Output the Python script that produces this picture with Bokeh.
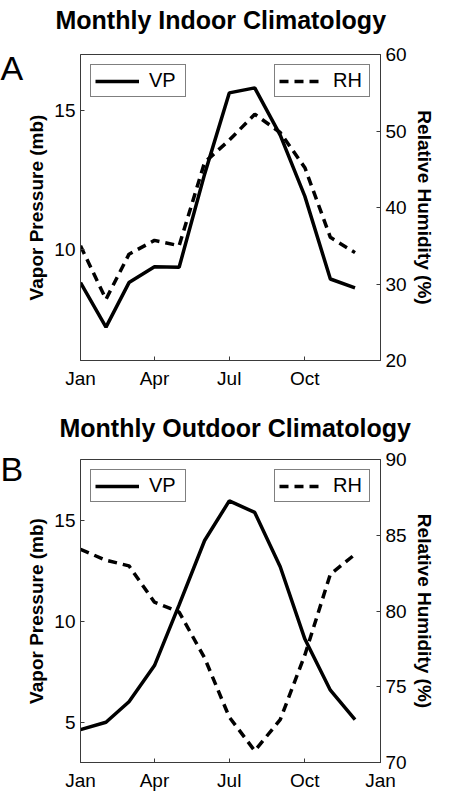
from bokeh.plotting import figure
from bokeh.models import Range1d, LinearAxis, FixedTicker, Legend, LegendItem, Label
from bokeh.layouts import column
from bokeh.embed import file_html
from bokeh.resources import INLINE

# ---- data -------------------------------------------------------------
month_day = [0, 31, 59, 90, 120, 151, 181, 212, 243, 273, 304, 334]

tick_days_a = [0, 90, 181, 273]
tick_labels_a = ["Jan", "Apr", "Jul", "Oct"]
tick_days_b = [0, 90, 181, 273, 365]
tick_labels_b = ["Jan", "Apr", "Jul", "Oct", "Jan"]

indoor_vp = [8.8, 7.2, 8.8, 9.37, 9.35, 12.7, 15.62, 15.8, 14.1, 11.9, 8.93, 8.61]
indoor_rh = [35.0, 28.0, 33.9, 35.7, 35.0, 45.9, 48.8, 52.2, 49.8, 45.2, 36.1, 34.1]
outdoor_vp = [4.63, 4.99, 6.01, 7.80, 10.8, 13.99, 15.95, 15.38, 12.69, 9.11, 6.58, 5.12]
outdoor_rh = [84.07, 83.35, 82.98, 80.58, 79.93, 76.9, 73.0, 70.77, 72.83, 77.1, 82.43, 83.74]

vp_ticks_a = [10, 15]
rh_ticks_a = [20, 30, 40, 50, 60]
vp_ticks_b = [5, 10, 15]
rh_ticks_b = [70, 75, 80, 85, 90]

FONT = "Liberation Sans"
AX = "#3a3a3a"


def style_axis(ax):
    ax.axis_line_color = AX
    ax.major_tick_line_color = AX
    ax.major_tick_in = 4
    ax.major_tick_out = 0
    ax.minor_tick_line_color = None
    ax.major_label_text_font = FONT
    ax.major_label_text_font_size = "19px"
    ax.major_label_text_color = "black"
    ax.axis_label_text_font = FONT
    ax.axis_label_text_font_size = "19px"
    ax.axis_label_text_font_style = "bold"
    ax.axis_label_text_color = "black"


def panel(title, title_x, title_y, letter, letter_y, vp, rh, vp_rng, rh_rng,
          vp_ticks, rh_ticks, xticks, xlabels, height, top, bottom):
    p = figure(width=437, height=height, x_range=Range1d(0, 365),
               y_range=Range1d(*vp_rng), output_backend="svg",
               toolbar_location=None, min_border_left=10, min_border_right=10,
               min_border_top=top, min_border_bottom=bottom,
               x_axis_location=None, y_axis_location=None)
    p.extra_y_ranges = {"rh": Range1d(*rh_rng)}
    p.grid.visible = False
    p.outline_line_color = AX
    p.outline_line_width = 1
    p.background_fill_color = "white"
    p.border_fill_color = "white"

    # panel title, drawn in the space above the frame
    p.add_layout(Label(x=title_x, y=title_y, x_units="screen", y_units="screen",
                       text=title, text_font=FONT, text_font_size="25px",
                       text_font_style="bold", text_color="black",
                       text_baseline="alphabetic"), "above")

    xb = LinearAxis(ticker=FixedTicker(ticks=xticks),
                    major_label_overrides={d: s for d, s in zip(xticks, xlabels)})
    style_axis(xb)
    xb.major_label_standoff = 7
    p.add_layout(xb, "below")

    yl = LinearAxis(ticker=FixedTicker(ticks=vp_ticks), axis_label="Vapor Pressure (mb)")
    style_axis(yl)
    yl.major_label_standoff = 5
    yl.axis_label_standoff = 4
    p.add_layout(yl, "left")

    yr = LinearAxis(y_range_name="rh", ticker=FixedTicker(ticks=rh_ticks),
                    axis_label="Relative Humidity (%)")
    style_axis(yr)
    yr.major_label_standoff = 5
    yr.axis_label_standoff = 4
    p.add_layout(yr, "right")

    r_vp = p.line(month_day, vp, line_color="black", line_width=3.5)
    r_rh = p.line(month_day, rh, y_range_name="rh", line_color="black",
                  line_width=3.5, line_dash="9 6")

    for item_label, rend, loc in (("VP", r_vp, "top_left"), ("RH", r_rh, "top_right")):
        leg = Legend(items=[LegendItem(label=item_label, renderers=[rend])],
                     location=loc, margin=10, padding=4, glyph_width=44,
                     glyph_height=18, label_standoff=10, label_width=32,
                     label_text_font=FONT, label_text_font_size="20px",
                     label_text_color="black", border_line_color="black",
                     border_line_width=1, background_fill_color="white",
                     background_fill_alpha=1.0)
        p.add_layout(leg)

    lab = Label(x=0, y=letter_y, x_units="screen", y_units="screen",
                text=letter, text_font=FONT, text_font_size="34px",
                text_color="black", text_baseline="alphabetic")
    try:
        lab.padding = -12
    except Exception:
        pass
    p.add_layout(lab, "left")
    return p


pa = panel("Monthly Indoor Climatology", -25, 35, "A", 293, indoor_vp, indoor_rh,
           (6, 17), (20, 60), vp_ticks_a, rh_ticks_a, tick_days_a, tick_labels_a,
           400, 54, 40)
pb = panel("Monthly Outdoor Climatology", -21, 32, "B", 294, outdoor_vp, outdoor_rh,
           (3, 18), (70, 90), vp_ticks_b, rh_ticks_b, tick_days_b, tick_labels_b,
           393, 59, 28)

layout = column(pa, pb, spacing=0)
open("out.html", "w").write(file_html(layout, INLINE))
